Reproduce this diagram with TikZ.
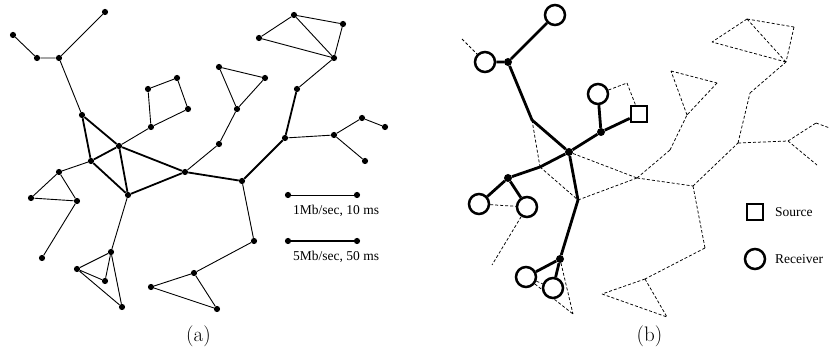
\documentclass[tikz,border=0pt]{standalone}
\usepackage{fontspec}
\newfontfamily\legendfont{Liberation Serif}
\pgfdeclarelayer{links}
\pgfsetlayers{links,main}
\begin{document}
\begin{tikzpicture}[x=1pt,y=-1pt,
  vtx/.style={circle,fill=black,inner sep=0pt,minimum size=6.2pt},
  branch/.style={circle,fill=black,inner sep=0pt,minimum size=8pt},
  rcv/.style={circle,draw=black,fill=white,line width=2.5pt,inner sep=0pt,minimum size=20pt},
  src/.style={rectangle,draw=black,fill=white,line width=2.5pt,inner sep=0pt,minimum size=16pt},
  lowlink/.style={line width=0.9pt},
  highlink/.style={line width=1.8pt},
  unused/.style={line width=0.75pt,dash pattern=on 3pt off 2pt},
  treelink/.style={line width=2.8pt},
  legendtext/.style={font=\legendfont\fontsize{13.5}{16}\selectfont,inner sep=0pt},
  panellabel/.style={font=\fontsize{21}{25}\selectfont,inner sep=0pt,anchor=base}]
\useasboundingbox (0,0) rectangle (830,352);

% ---------------- (a): the network with its link types ----------------
\node[vtx] (a1) at (105,12) {};
\node[vtx] (a2) at (13,35) {};
\node[vtx] (a3) at (37,58) {};
\node[vtx] (a4) at (59,58) {};
\node[vtx] (a5) at (82,115) {};
\node[vtx] (a6) at (119,146) {};
\node[vtx] (a7) at (91,161) {};
\node[vtx] (a8) at (59,172) {};
\node[vtx] (a9) at (185,172) {};
\node[vtx] (a10) at (148,89) {};
\node[vtx] (a11) at (177,78) {};
\node[vtx] (a12) at (188,109) {};
\node[vtx] (a13) at (151,127) {};
\node[vtx] (b1) at (294,15) {};
\node[vtx] (b2) at (343,24) {};
\node[vtx] (b3) at (259,38) {};
\node[vtx] (b4) at (334,58) {};
\node[vtx] (b5) at (219,67) {};
\node[vtx] (b6) at (265,78) {};
\node[vtx] (b7) at (237,109) {};
\node[vtx] (b8) at (297,89) {};
\node[vtx] (b9) at (219,144) {};
\node[vtx] (b10) at (285,138) {};
\node[vtx] (b11) at (334,135) {};
\node[vtx] (b12) at (362,118) {};
\node[vtx] (b13) at (385,127) {};
\node[vtx] (b14) at (365,161) {};
\node[vtx] (c1) at (31,198) {};
\node[vtx] (c2) at (77,201) {};
\node[vtx] (c3) at (128,195) {};
\node[vtx] (c4) at (42,258) {};
\node[vtx] (c5) at (111,252) {};
\node[vtx] (c6) at (77,269) {};
\node[vtx] (c7) at (105,281) {};
\node[vtx] (c8) at (122,307) {};
\node[vtx] (d1) at (242,181) {};
\node[vtx] (d2) at (254,241) {};
\node[vtx] (d3) at (151,287) {};
\node[vtx] (d4) at (194,273) {};
\node[vtx] (d5) at (217,309) {};

\begin{pgfonlayer}{links}
% 1Mb/sec links
\draw[lowlink] (a1)--(a4) (a2)--(a3) (a3)--(a4) (a4)--(a5)
  (a10)--(a11) (a11)--(a12) (a12)--(a13) (a10)--(a13) (a13)--(a6)
  (a7)--(a8) (a8)--(c1) (a8)--(c2) (c1)--(c2) (c2)--(c4)
  (c3)--(c5) (c5)--(c6) (c5)--(c7) (c6)--(c7) (c5)--(c8) (c6)--(c8)
  (a9)--(b9) (b9)--(b7) (b7)--(b5) (b5)--(b6) (b6)--(b7)
  (b8)--(b4) (b4)--(b1) (b4)--(b3) (b1)--(b3) (b1)--(b2) (b2)--(b4)
  (b10)--(b11) (b11)--(b12) (b12)--(b13) (b11)--(b14)
  (d1)--(d2) (d2)--(d4) (d4)--(d3) (d3)--(d5) (d4)--(d5);
% 5Mb/sec links
\draw[highlink] (a5)--(a7) (a5)--(a6) (a6)--(a7) (a6)--(c3) (a7)--(c3)
  (a6)--(a9) (c3)--(a9) (a9)--(d1) (d1)--(b10) (b10)--(b8);
\end{pgfonlayer}

% link legend
\node[vtx] (l1a) at (288,195) {};
\node[vtx] (l1b) at (357,195) {};
\node[vtx] (l2a) at (288,241) {};
\node[vtx] (l2b) at (357,241) {};
\draw[lowlink] (l1a)--(l1b);
\draw[highlink] (l2a)--(l2b);
\node[legendtext,anchor=west] (t1) at (293,211) {1Mb/sec, 10 ms};
\node[legendtext,anchor=west] (t2) at (293,257) {5Mb/sec, 50 ms};

\node[panellabel] (la) at (198.5,342) {(a)};

% ---------------- (b): the multicast tree over the same network ----------------
\node[rcv] (r1) at (555,15) {};
\coordinate (q2) at (462,39);
\node[rcv] (r3) at (485,62) {};
\node[branch] (p4) at (508,62) {};
\coordinate (q5) at (532,120);
\node[branch] (p6) at (569,152) {};
\coordinate (q7) at (540,167);
\node[branch] (p8) at (508,178) {};
\node[rcv] (rc1) at (479,204) {};
\node[rcv] (rc2) at (527,207) {};
\coordinate (qc3) at (578,200);
\coordinate (qc4) at (492,265);
\node[branch] (pc5) at (560,259) {};
\node[rcv] (rc6) at (526,277) {};
\node[rcv] (rc7) at (553,288) {};
\coordinate (qc8) at (573,314);
\coordinate (q9) at (637,178);
\node[branch] (p13) at (601,132) {};
\node[rcv] (r10) at (598,94) {};
\coordinate (q11) at (627,83);
\node[src] (s12) at (639,114) {};
\coordinate (u9) at (670,150);
\coordinate (u7) at (687,115);
\coordinate (u5) at (671,71);
\coordinate (u6) at (717,83);
\coordinate (v1) at (693,186);
\coordinate (u10) at (738,143);
\coordinate (u8) at (750,93);
\coordinate (u4) at (786,62);
\coordinate (u1) at (747,19);
\coordinate (u2) at (794,27);
\coordinate (u3) at (712,42);
\coordinate (u11) at (788,141);
\coordinate (u12) at (816,123);
\coordinate (u13) at (838,131);
\coordinate (u14) at (817,165);
\coordinate (v2) at (705,248);
\coordinate (v3) at (602,294);
\coordinate (v4) at (645,279);
\coordinate (v5) at (667,317);

\begin{pgfonlayer}{links}
% links not used by the tree
\draw[unused] (q2)--(r3) (q5)--(q7) (q7)--(qc3) (p6)--(q9) (qc3)--(q9)
  (r10)--(q11) (q11)--(s12) (rc1)--(rc2) (rc2)--(qc4)
  (rc6)--(rc7) (pc5)--(qc8) (rc6)--(qc8)
  (q9)--(u9) (u9)--(u7) (u7)--(u5) (u5)--(u6) (u6)--(u7)
  (q9)--(v1) (v1)--(u10) (u10)--(u8) (u8)--(u4) (u4)--(u1) (u4)--(u3)
  (u1)--(u3) (u1)--(u2) (u2)--(u4)
  (u10)--(u11) (u11)--(u12) (u12)--(u13) (u11)--(u14)
  (v1)--(v2) (v2)--(v4) (v4)--(v3) (v3)--(v5) (v4)--(v5);
% multicast tree
\draw[treelink,line join=round] (r1)--(p4) (r3)--(p4) (p4)--(q5)--(p6)
  (p6)--(p13) (p13)--(r10) (p13)--(s12)
  (p6)--(q7)--(p8) (p8)--(rc1) (p8)--(rc2)
  (p6)--(qc3)--(pc5) (pc5)--(rc6) (pc5)--(rc7);
\end{pgfonlayer}

% tree legend
\node[src] (ks) at (755,212) {};
\node[rcv] (kr) at (755,259) {};
\node[legendtext,anchor=west] (ts) at (775,212) {Source};
\node[legendtext,anchor=west] (tr) at (775,259) {Receiver};

\node[panellabel] (lb) at (649.5,342) {(b)};
\end{tikzpicture}
\end{document}
